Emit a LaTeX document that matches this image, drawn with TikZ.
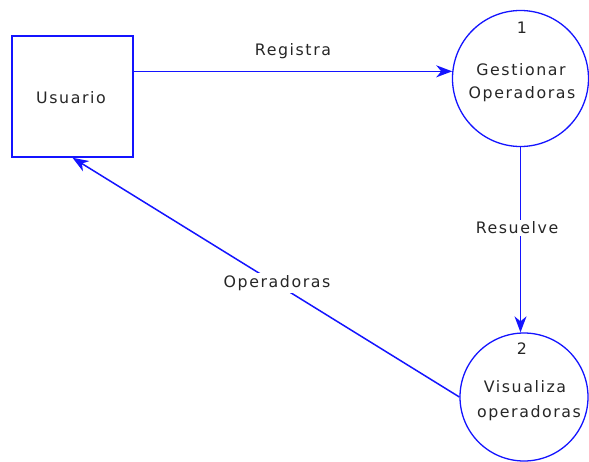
\documentclass[tikz,border=0pt]{standalone}
\usepackage{fontspec}
\setmainfont{DejaVu Sans}[LetterSpace=10]
\usetikzlibrary{arrows.meta}
\definecolor{dfdblue}{RGB}{20,20,255}
\begin{document}
\begin{tikzpicture}[x=1pt,y=-1pt,
  every node/.style={font=\fontsize{15.8}{18}\selectfont, text=black!85},
  shapebox/.style={draw=dfdblue, line width=1.5pt, minimum width=121pt, minimum height=121pt, inner sep=0pt},
  procc/.style={draw=dfdblue, line width=1.3pt, circle, inner sep=0pt},
  flow/.style={draw=dfdblue, line width=1.5pt, -{Stealth[length=16pt,width=12pt,inset=5pt]}},
  lbl/.style={fill=white, inner sep=2pt}
]
\useasboundingbox (0,0) rectangle (589,462);
% entity
\node[shapebox] (usr) at (72.5,96.5) {};
\node (usrt) at (71,98) {Usuario};
% processes
\node[procc, minimum size=136pt] (c1) at (520.5,78.5) {};
\node (c1n) at (522,28) {1};
\node (c1a) at (521,70) {Gestionar};
\node (c1b) at (522,94) {Operadoras};
\node[procc, minimum size=128pt] (c2) at (524,397) {};
\node (c2n) at (522,349) {2};
\node (c2a) at (525,387) {Visualiza};
\node (c2b) at (529,413) {operadoras};
% flows
\draw[flow] (usr.east |- c1.174.5) -- node[above=12pt, inner sep=0pt] (lreg) {Registra} (c1.174.5);
\draw[flow] (c1.south) -- (c1.south |- c2.north);
\node[lbl] (lres) at (517,228) {Resuelve};
\draw[flow] (c2.west) -- (usr.south);
\node[lbl] (lop) at (277,283) {Operadoras};
\end{tikzpicture}
\end{document}
